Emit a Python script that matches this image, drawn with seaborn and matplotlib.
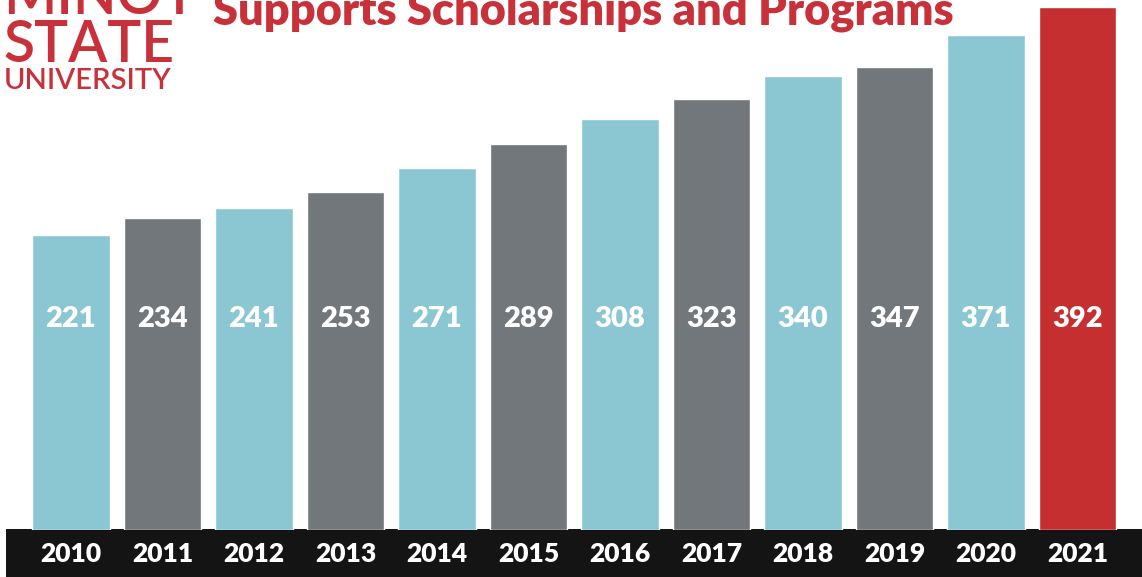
import matplotlib
matplotlib.use("Agg")
import matplotlib.pyplot as plt
import seaborn as sns
import pandas as pd
from matplotlib.patches import Rectangle

# data
years = ["2010", "2011", "2012", "2013", "2014", "2015",
         "2016", "2017", "2018", "2019", "2020", "2021"]
values = [221, 234, 241, 253, 271, 289, 308, 323, 340, 347, 371, 392]

BLUE = "#8BC7D2"
GREY = "#72777B"
RED = "#C62F2F"
TXT_RED = "#C8313A"
bar_colors = [BLUE, GREY] * 5 + [BLUE, RED]

W, H = 1142, 577
sns.set_theme(style="white")
plt.rcParams["font.family"] = ["Lato", "DejaVu Sans"]

fig = plt.figure(figsize=(W / 100, H / 100), dpi=100)
# axes runs from the top edge down to the black band (y=530 px)
ax = fig.add_axes([0, (H - 530) / H, 1, 530 / H])
ax.patch.set_alpha(0)

df = pd.DataFrame({"year": years, "value": values})
sns.barplot(data=df, x="year", y="value", hue="year", palette=bar_colors,
            legend=False, width=0.85, saturation=1, ax=ax)

ax.set_ylim(0, 530 / 1.335)
ax.set_xlim(-71 / 91.5, 11 + (W - 1077.5) / 91.5)
ax.set_xlabel("")
ax.set_ylabel("")
ax.set_yticks([])
sns.despine(ax=ax, left=True, bottom=True)
ax.tick_params(axis="x", length=0, pad=9, colors="white")
for lab in ax.get_xticklabels():
    lab.set_fontsize(19)
    lab.set_fontweight("heavy")

# value labels sit at one height across all bars
for i, v in enumerate(values):
    ax.text(i, 158, str(v), ha="center", va="center", color="white",
            fontsize=21, fontweight="heavy")

# black band behind the year labels
fig.patches.append(Rectangle((6 / W, 0), 1, 48 / H, transform=fig.transFigure,
                             facecolor="#141414", edgecolor="none", zorder=-1))

# logo and title, cropped at the top like the source
def px(x, y):
    return x / W, 1 - y / H

fig.text(*px(3, 14), "MINOT", color=TXT_RED, fontsize=41, va="baseline",
         fontweight="semibold")
fig.text(*px(3, 62), "STATE", color=TXT_RED, fontsize=41, va="baseline",
         fontweight="semibold")
fig.text(*px(4, 89), "UNIVERSITY", color=TXT_RED, fontsize=21, va="baseline",
         fontweight="semibold")
fig.text(*px(213, 25), "Supports Scholarships and Programs", color=TXT_RED,
         fontsize=32.5, va="baseline", fontweight="heavy")

fig.savefig("out.png", dpi=100)
